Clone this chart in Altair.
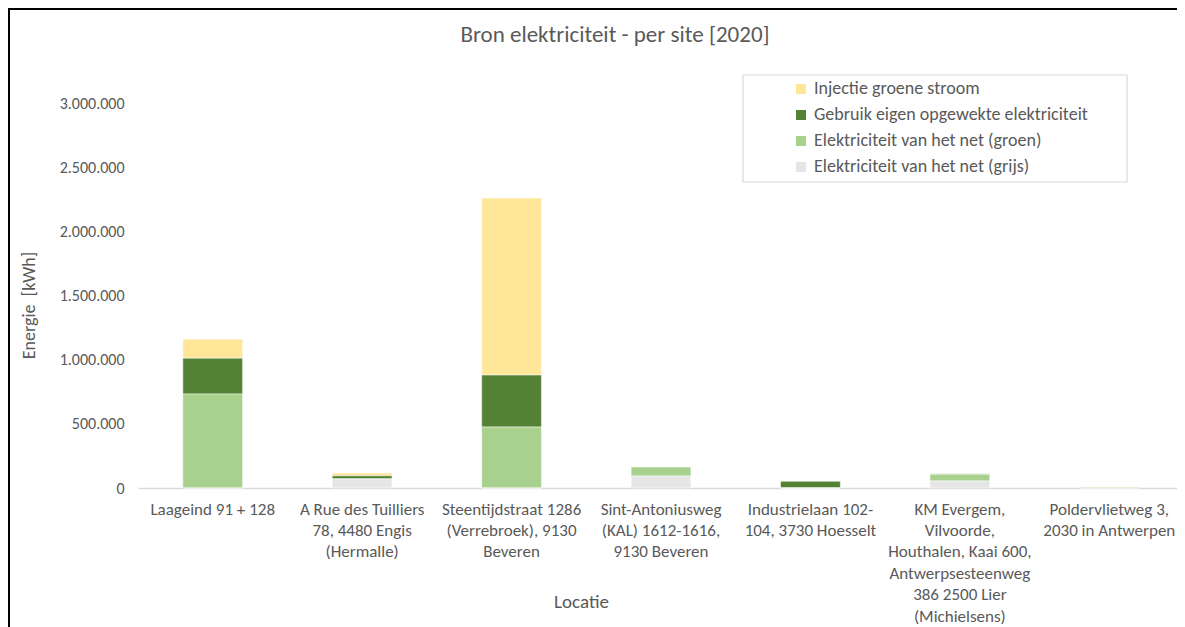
import altair as alt
import pandas as pd

categories = [
    "Laageind 91 + 128",
    "A Rue des Tuilliers 78, 4480 Engis (Hermalle)",
    "Steentijdstraat 1286 (Verrebroek), 9130 Beveren",
    "Sint-Antoniusweg (KAL) 1612-1616, 9130 Beveren",
    "Industrielaan 102-104, 3730 Hoesselt",
    "KM Evergem, Vilvoorde, Houthalen, Kaai 600, Antwerpsesteenweg 386 2500 Lier (Michielsens)",
    "Poldervlietweg 3, 2030 in Antwerpen",
]
label_lines = [
    ["Laageind 91 + 128"],
    ["A Rue des Tuilliers", "78, 4480 Engis", "(Hermalle)"],
    ["Steentijdstraat 1286", "(Verrebroek), 9130", "Beveren"],
    ["Sint-Antoniusweg", "(KAL) 1612-1616,", "9130 Beveren"],
    ["Industrielaan 102-", "104, 3730 Hoesselt"],
    ["KM Evergem,", "Vilvoorde,", "Houthalen, Kaai 600,", "Antwerpsesteenweg", "386 2500 Lier", "(Michielsens)"],
    ["Poldervlietweg 3,", "2030 in Antwerpen"],
]

series = [
    "Injectie groene stroom",
    "Gebruik eigen opgewekte elektriciteit",
    "Elektriciteit van het net (groen)",
    "Elektriciteit van het net (grijs)",
]
colors = ["#FFE699", "#548235", "#A9D18E", "#E7E6E6"]
stack_rank = [3, 2, 1, 0]

injectie = [148000, 22000, 1379000, 0, 0, 0, 0]
gebruik = [280000, 25000, 405000, 0, 52000, 5000, 0]
net_groen = [732000, 0, 475000, 70000, 0, 52000, 8000]
net_grijs = [0, 70000, 0, 93000, 0, 55000, 0]

values = [injectie, gebruik, net_groen, net_grijs]

chart_title = "Bron elektriciteit - per site [2020]"

rows = []
for s, vals, rank in zip(series, values, stack_rank):
    for c, v in zip(categories, vals):
        rows.append({"Locatie": c, "Bron": s, "Energie": v, "rank": rank})
df = pd.DataFrame(rows)

FONT = "Carlito, Calibri, 'Open Sans', sans-serif"
GREY_TEXT = "#595959"

# label expression for wrapped x labels
expr = "datum.label"
for c, lines in reversed(list(zip(categories, label_lines))):
    arr = "[" + ",".join("'" + l + "'" for l in lines) + "]"
    expr = f"datum.label == '{c}' ? {arr} : ({expr})"

L = 138  # page x of plot left
T = 103  # page y of plot top
W = 1177 - L   # visible plot width (svg ends at page x 1177)
H = 385
BAND_RANGE = 1046  # the category axis runs slightly past the page edge, as in the reference

bars = alt.Chart(df).mark_bar(stroke="white", strokeWidth=0.5).encode(
    x=alt.X(
        "Locatie:N",
        sort=categories,
        scale=alt.Scale(paddingInner=0.6, paddingOuter=0.3, range=[0, BAND_RANGE]),
        axis=alt.Axis(
            title="Locatie",
            labelAngle=0,
            labelExpr=expr,
            labelFont=FONT,
            labelFontSize=17,
            labelColor=GREY_TEXT,
            labelLineHeight=21.4,
            labelPadding=13,
            labelBaseline="top",
            labelLimit=300,
            ticks=False,
            domainColor="#D9D9D9",
            domainWidth=1.5,
            titleFont=FONT,
            titleFontSize=19,
            titleFontWeight="normal",
            titleColor=GREY_TEXT,
            titleX=581 - L,
            titleY=113,
            titleBaseline="middle",
            titleAlign="center",
        ),
    ),
    y=alt.Y(
        "Energie:Q",
        stack="zero",
        scale=alt.Scale(domain=[0, 3000000], nice=False),
        axis=alt.Axis(
            title="Energie\u00a0\u00a0[kWh]",
            values=[0, 500000, 1000000, 1500000, 2000000, 2500000, 3000000],
            labelExpr="replace(datum.label, regexp(',', 'g'), '.')",
            labelFont=FONT,
            labelFontSize=16,
            labelColor=GREY_TEXT,
            labelPadding=14,
            ticks=False,
            domain=False,
            grid=False,
            titleFont=FONT,
            titleFontSize=18,
            titleFontWeight="normal",
            titleColor=GREY_TEXT,
            titleAngle=-90,
            titleX=29 - L,
            titleY=305 - T,
            titleAlign="center",
            titleBaseline="middle",
        ),
    ),
    color=alt.Color(
        "Bron:N",
        scale=alt.Scale(domain=series, range=colors),
        legend=alt.Legend(
            title=None,
            orient="none",
            legendX=792 - L,
            legendY=-23,
            symbolType="square",
            symbolSize=100,
            symbolStrokeWidth=0,
            labelFont=FONT,
            labelFontSize=18,
            labelColor=GREY_TEXT,
            labelLimit=400,
            rowPadding=8,
            labelOffset=4,
            padding=0,
        ),
    ),
    order=alt.Order("rank:Q", sort="ascending"),
)

dummy = pd.DataFrame({"a": [0]})

legend_box = alt.Chart(dummy).mark_rect(
    fill="white", stroke="#D9D9D9", strokeWidth=1.2
).encode(
    x=alt.value(743 - L), x2=alt.value(1127 - L), y=alt.value(75 - T), y2=alt.value(182 - T)
)

title_text = alt.Chart(pd.DataFrame({"t": [chart_title]})).mark_text(
    font=FONT, fontSize=23, color=GREY_TEXT, align="center", baseline="middle"
).encode(text="t:N", x=alt.value(615 - L), y=alt.value(35 - T))

frame_top = alt.Chart(dummy).mark_rule(color="black", strokeWidth=2).encode(
    x=alt.value(8 - L), x2=alt.value(1185 - L), y=alt.value(9 - T)
)
frame_left = alt.Chart(dummy).mark_rule(color="black", strokeWidth=2).encode(
    x=alt.value(9 - L), y=alt.value(8 - T), y2=alt.value(627 - T)
)

chart = alt.layer(legend_box, bars, title_text, frame_top, frame_left).properties(
    width=W,
    height=H,
    padding={"left": L - 8, "top": T - 8, "right": 0, "bottom": 619 - (T - 8) - H},
    autosize=alt.AutoSizeParams(type="none"),
).configure(background="white").configure_view(stroke="transparent", strokeWidth=0)

chart.save("out.html", embed_options={"renderer": "svg", "actions": False})
